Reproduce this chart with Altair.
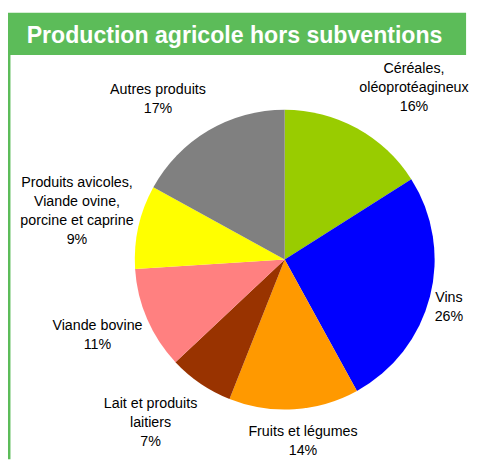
import math
import altair as alt
import pandas as pd

# ---- data ----
categories = [
    "Céréales, oléoprotéagineux",
    "Vins",
    "Fruits et légumes",
    "Lait et produits laitiers",
    "Viande bovine",
    "Produits avicoles, Viande ovine, porcine et caprine",
    "Autres produits",
]
label_lines = [
    ["Céréales,", "oléoprotéagineux"],
    ["Vins"],
    ["Fruits et légumes"],
    ["Lait et produits", "laitiers"],
    ["Viande bovine"],
    ["Produits avicoles,", "Viande ovine,", "porcine et caprine"],
    ["Autres produits"],
]
shares = [16, 26, 14, 7, 11, 9, 17]
colors = ["#99CC00", "#0000FF", "#FF9900", "#993300", "#FF8080", "#FFFF00", "#808080"]
title_text = "Production agricole hors subventions"

# ---- layout ----
W, H = 471, 455
CX, CY, R = 281.5, 252.0, 152.5
FS, LH = 14.5, 19.5
GAP, KH, KV, EXTRA_V = 5.0, 2.5, 1.5, 8.5
GREEN = "#5CBC59"
FONT = "Liberation Sans"

AFM = {" ": 278, ",": 278, "%": 889, "A": 667, "C": 722, "F": 611, "L": 611,
       "P": 667, "V": 667, "a": 556, "b": 556, "c": 500, "d": 556, "e": 556,
       "f": 278, "g": 556, "h": 556, "i": 222, "l": 222, "m": 833, "n": 556,
       "o": 556, "p": 556, "q": 556, "r": 333, "s": 500, "t": 278, "u": 556,
       "v": 500, "x": 500, "y": 500, "é": 556}


def text_w(s):
    return sum(AFM.get(ch, 556) for ch in s) / 1000.0 * FS


def clamp(v):
    return max(-1.0, min(1.0, v))


total = sum(shares)
rows = []
cum = 0.0
for i, (cat, lines, v) in enumerate(zip(categories, label_lines, shares)):
    mid = (cum + v / 2) / total * 2 * math.pi
    cum += v
    all_lines = lines + [f"{v}%"]
    n = len(all_lines)
    w = max(text_w(s) for s in all_lines)
    h = n * LH
    ax = (R + GAP) * math.sin(mid)
    ay = -(R + GAP + EXTRA_V) * math.cos(mid)
    cx = ax + w / 2 * clamp(KH * math.sin(mid))
    cy = ay + h / 2 * clamp(-KV * math.cos(mid))
    # Vega draws the first line at the anchor: shift up to centre the block
    cy -= (n - 1) * LH / 2
    rows.append({
        "idx": i,
        "category": cat,
        "share": v,
        "label": "\n".join(all_lines),
        "lr": math.hypot(cx, cy),
        "lt": math.atan2(cx, -cy) % (2 * math.pi),
    })
df = pd.DataFrame(rows)
deco = pd.DataFrame({"t": [title_text]})

pie = alt.Chart(df).mark_arc(outerRadius=R, stroke=None).encode(
    theta=alt.Theta("share:Q", stack=True),
    color=alt.Color("category:N", scale=alt.Scale(domain=categories, range=colors), legend=None),
    order=alt.Order("idx:Q", sort="ascending"),
    x=alt.value(CX),
    y=alt.value(CY),
)

labels = alt.Chart(df).mark_text(
    font=FONT, fontSize=FS, lineHeight=LH, lineBreak="\n",
    align="center", baseline="middle", color="#000000",
).encode(
    theta=alt.Theta("lt:Q", scale=None, stack=False),
    radius=alt.Radius("lr:Q", scale=None),
    x=alt.value(CX),
    y=alt.value(CY),
    text=alt.Text("label:N"),
)

bar = alt.Chart(deco).mark_rect(color=GREEN).encode(
    x=alt.value(0), x2=alt.value(466), y=alt.value(1), y2=alt.value(44)
)
border = alt.Chart(deco).mark_rect(color=GREEN).encode(
    x=alt.value(0), x2=alt.value(2.5), y=alt.value(40), y2=alt.value(H)
)
title = alt.Chart(deco).mark_text(
    font=FONT, fontSize=23.5, fontWeight="bold", color="white",
    align="left", baseline="alphabetic",
).encode(x=alt.value(19), y=alt.value(32), text="t:N")

chart = alt.layer(bar, border, title, pie, labels).resolve_scale(
    theta="independent", radius="independent"
).properties(
    width=W, height=H, padding=0,
    autosize=alt.AutoSizeParams(type="none"),
    background="white",
).configure_view(stroke=None)

chart.save("out.html", embed_options={"renderer": "svg", "actions": False})
